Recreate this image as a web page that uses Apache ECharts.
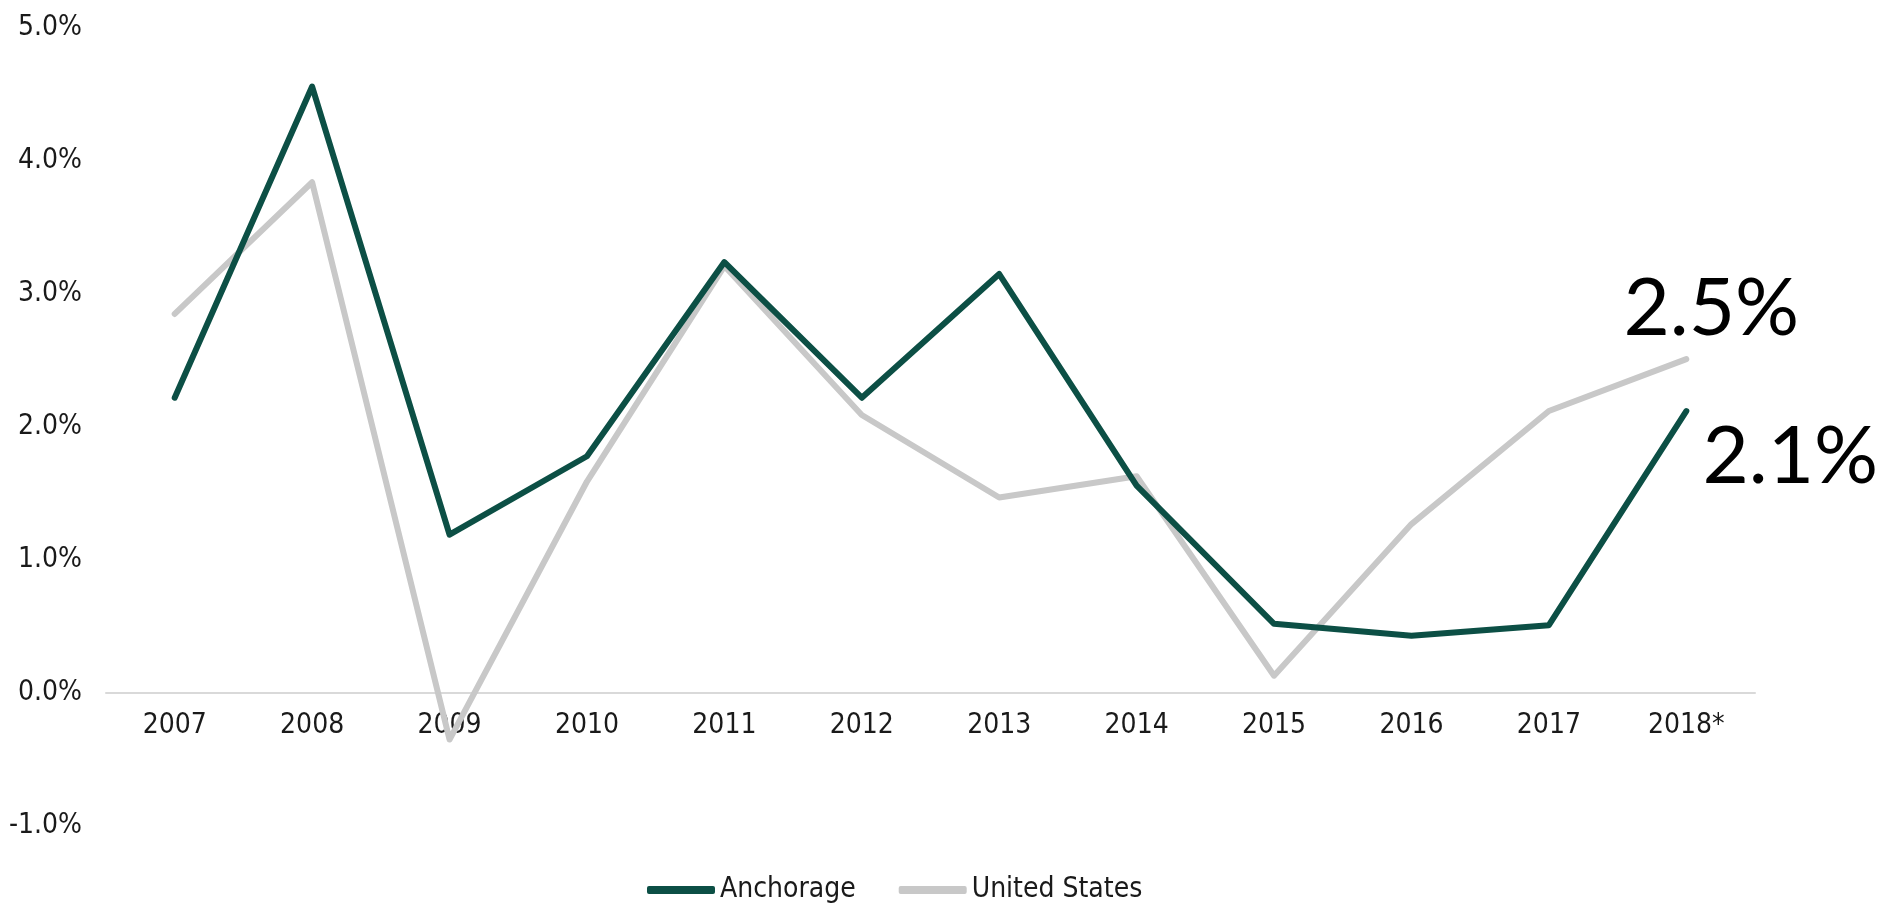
<!DOCTYPE html>
<html>
<head>
<meta charset="utf-8">
<script src="https://cdn.jsdelivr.net/npm/echarts@6/dist/echarts.min.js"></script>
<style>
  html, body { margin: 0; padding: 0; background: #fff; }
  #container { width: 1894px; height: 903px; }
</style>
</head>
<body>
<div id="container"></div>
<script>
// 年份
var years = ['2007', '2008', '2009', '2010', '2011', '2012', '2013', '2014', '2015', '2016', '2017', '2018*'];
// Anchorage growth (%)
var anchorage = [2.22, 4.56, 1.19, 1.78, 3.24, 2.22, 3.15, 1.56, 0.52, 0.43, 0.51, 2.12];
// United States growth (%)
var unitedStates = [2.85, 3.84, -0.35, 1.59, 3.21, 2.09, 1.47, 1.63, 0.13, 1.27, 2.12, 2.51];
var seriesNames = ['Anchorage', 'United States'];
// end labels
var endLabels = ['2.1%', '2.5%'];

var axisFont = "'DejaVu Sans Condensed', sans-serif";

var dom = document.getElementById("container");
var myChart = echarts.init(dom);
var option = {
	animation: false,
	grid: {
		left: 106,
		right: 139,
		top: 28,
		bottom: 77
	},
	legend: {
		top: 871,
		left: 642,
		itemWidth: 68,
		itemHeight: 8,
		itemGap: 43,
		icon: 'roundRect',
		textStyle: { fontFamily: axisFont, fontSize: 28, color: '#1a1a1a' },
		data: seriesNames
	},
	xAxis: {
		type: 'category',
		data: years,
		boundaryGap: true,
		axisLine: { onZero: true, lineStyle: { color: '#d9d9d9', width: 2 } },
		axisTick: { show: false },
		// labels sit just under the zero line
		axisLabel: { fontFamily: axisFont, fontSize: 28, color: '#1a1a1a', margin: -114 }
	},
	yAxis: {
		type: 'value',
		min: -1,
		max: 5,
		interval: 1,
		splitLine: { show: false },
		axisLine: { show: false },
		axisTick: { show: false },
		axisLabel: {
			fontFamily: axisFont,
			fontSize: 28,
			color: '#1a1a1a',
			margin: 24,
			formatter: function (v) { return v.toFixed(1) + '%'; }
		}
	},
	series: [
		{
			name: seriesNames[0],
			type: 'line',
			data: anchorage,
			symbol: 'none',
			z: 3,
			lineStyle: { color: '#0c4f45', width: 6, cap: 'round', join: 'round' },
			itemStyle: { color: '#0c4f45' },
			endLabel: {
				show: true,
				formatter: endLabels[0],
				distance: 0,
				align: 'center',
				verticalAlign: 'middle',
				offset: [104, 46],
				fontFamily: 'Lato',
				fontSize: 80,
				color: '#000'
			}
		},
		{
			name: seriesNames[1],
			type: 'line',
			data: unitedStates,
			symbol: 'none',
			z: 2,
			lineStyle: { color: '#c8c8c8', width: 6, cap: 'round', join: 'round' },
			itemStyle: { color: '#c8c8c8' },
			endLabel: {
				show: true,
				formatter: endLabels[1],
				distance: 0,
				align: 'center',
				verticalAlign: 'middle',
				offset: [25, -50],
				fontFamily: 'Lato',
				fontSize: 80,
				color: '#000'
			}
		}
	]
};
if (option && typeof option === "object") {
	myChart.setOption(option, true);
}
</script>
</body>
</html>
